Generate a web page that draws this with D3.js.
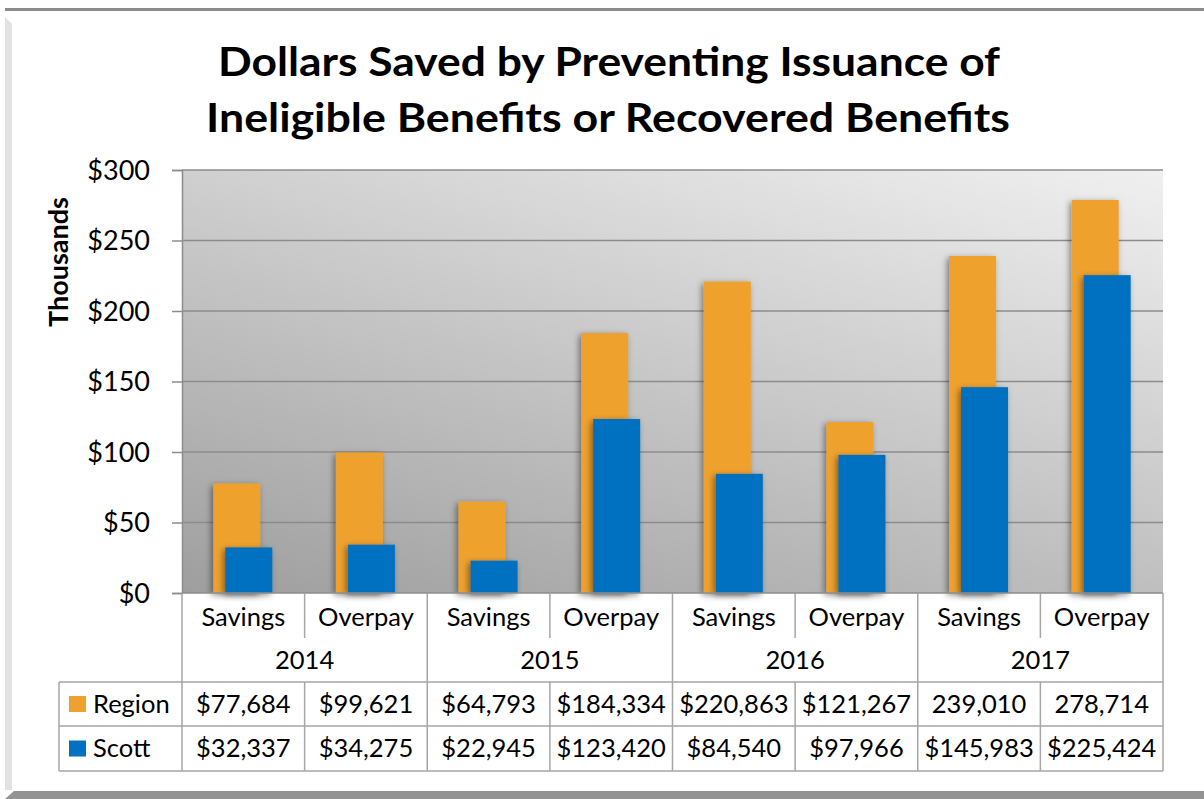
<!DOCTYPE html>
<html>
<head>
<meta charset="utf-8">
<script src="https://cdn.jsdelivr.net/npm/d3@7"></script>
<style>
  body { margin: 0; background: #fff; }
  svg { display: block; font-family: Lato, "Open Sans", sans-serif; }
</style>
</head>
<body>
<svg class="chart" width="1204" height="799"></svg>
<script>
// data
const years = ["2014", "2015", "2016", "2017"];
const kinds = ["Savings", "Overpay"];
const region = [77684, 99621, 64793, 184334, 220863, 121267, 239010, 278714];
const scott = [32337, 34275, 22945, 123420, 84540, 97966, 145983, 225424];
const regionText = ["$77,684", "$99,621", "$64,793", "$184,334", "$220,863", "$121,267", "239,010", "278,714"];
const scottText = ["$32,337", "$34,275", "$22,945", "$123,420", "$84,540", "$97,966", "$145,983", "$225,424"];
const yTicks = [0, 50000, 100000, 150000, 200000, 250000, 300000];

const orange = "#efa12f";
const blue = "#0070c0";
const lineGray = "#8c8c8c";
const cellGray = "#a6a6a6";

const svg = d3.select(".chart");

let plotLeft = 182, plotRight = 1163, plotTop = 170, plotBottom = 593;

// categories: one slot per year/kind
const cats = d3.range(8);
const x = d3.scaleBand().domain(cats).range([plotLeft, plotRight]).padding(0);
const xYear = d3.scaleBand().domain(years).range([plotLeft, plotRight]).padding(0);
const y = d3.scaleLinear().domain([0, 300000]).range([plotBottom, plotTop]);
const bw = x.bandwidth();

const defs = svg.append("defs");
// mostly vertical, a bit diagonal: dark bottom-left, light top-right
const grad = defs.append("linearGradient")
  .attr("id", "plotbg")
  .attr("gradientUnits", "userSpaceOnUse")
  .attr("x1", plotLeft).attr("y1", plotBottom)
  .attr("x2", plotLeft + 187).attr("y2", plotBottom - 651);
grad.append("stop").attr("offset", "0").attr("stop-color", "#9e9e9e");
grad.append("stop").attr("offset", "1").attr("stop-color", "#f0f0f0");

const shadow = defs.append("filter").attr("id", "shadow")
  .attr("x", "-30%").attr("y", "-10%").attr("width", "160%").attr("height", "130%");
shadow.append("feDropShadow")
  .attr("dx", -2).attr("dy", 2).attr("stdDeviation", 3)
  .attr("flood-color", "#000").attr("flood-opacity", 0.45);

// outer frame (the bevelled chart border)
svg.append("rect").attr("x", 5).attr("y", 8).attr("width", 1199).attr("height", 3).attr("fill", lineGray);
svg.append("path").attr("d", "M5,17 L12,24 L12,790 L5,790 Z").attr("fill", "#e2e2e2");
svg.append("path").attr("d", "M5,799 L14,791 L1204,791 L1204,799 Z").attr("fill", "#939393");

// title
svg.append("text")
  .attr("x", 609).attr("y", 76)
  .attr("text-anchor", "middle")
  .attr("textLength", 782).attr("lengthAdjust", "spacingAndGlyphs")
  .style("font-size", "40px").style("font-weight", "bold")
  .text("Dollars Saved by Preventing Issuance of");
svg.append("text")
  .attr("x", 608).attr("y", 132)
  .attr("text-anchor", "middle")
  .attr("textLength", 804).attr("lengthAdjust", "spacingAndGlyphs")
  .style("font-size", "40px").style("font-weight", "bold")
  .text("Ineligible Benefits or Recovered Benefits");

// plot area
svg.append("rect")
  .attr("x", plotLeft).attr("y", plotTop)
  .attr("width", plotRight - plotLeft).attr("height", plotBottom - plotTop)
  .attr("fill", "url(#plotbg)");

// y axis with gridlines
const yAxis = d3.axisLeft(y).tickValues(yTicks)
  .tickSize(10).tickPadding(22)
  .tickFormat((d) => "$" + d / 1000);
const gy = svg.append("g").attr("transform", `translate(${plotLeft},0)`).call(yAxis);
gy.select(".domain").attr("stroke", lineGray).attr("stroke-width", 1.5);
gy.selectAll(".tick line").attr("stroke", lineGray).attr("stroke-width", 1.5);
gy.selectAll(".tick text")
  .style("font-size", "27px").style("font-family", "Lato, sans-serif")
  .attr("fill", "#000").attr("dy", "0.34em");
svg.append("g").selectAll("line")
  .data(yTicks.slice(1))
  .enter().append("line")
  .attr("x1", plotLeft).attr("x2", plotRight)
  .attr("y1", (d) => y(d)).attr("y2", (d) => y(d))
  .attr("stroke", lineGray).attr("stroke-width", 1.5);

svg.append("text")
  .attr("transform", "translate(68,262) rotate(-90)")
  .attr("text-anchor", "middle")
  .style("font-size", "27px").style("font-weight", "bold")
  .text("Thousands");

// bars: Region behind, Scott offset to the right
const barW = 47;
svg.append("g").selectAll("rect")
  .data(region)
  .enter().append("rect")
  .attr("x", (d, i) => x(i) + bw / 2 - 30)
  .attr("y", (d) => y(d))
  .attr("width", barW)
  .attr("height", (d) => plotBottom - y(d))
  .attr("fill", orange)
  .attr("filter", "url(#shadow)");
svg.append("g").selectAll("rect")
  .data(scott)
  .enter().append("rect")
  .attr("x", (d, i) => x(i) + bw / 2 - 18)
  .attr("y", (d) => y(d))
  .attr("width", barW)
  .attr("height", (d) => plotBottom - y(d))
  .attr("fill", blue)
  .attr("filter", "url(#shadow)");

// axis line at zero
svg.append("line")
  .attr("x1", plotLeft).attr("x2", plotRight)
  .attr("y1", plotBottom).attr("y2", plotBottom)
  .attr("stroke", lineGray).attr("stroke-width", 1.5);

// data table under the chart
const rowKind = 617, rowYear = 660, rowTop = 682, rowMid = 726, rowEnd = 771, subEnd = 638;
const tbl = svg.append("g").attr("stroke", cellGray).attr("stroke-width", 1.5);
// year group borders (full height)
tbl.selectAll(".yl")
  .data(years.concat(["end"]))
  .enter().append("line")
  .attr("x1", (d, i) => plotLeft + i * xYear.bandwidth())
  .attr("x2", (d, i) => plotLeft + i * xYear.bandwidth())
  .attr("y1", plotBottom).attr("y2", rowEnd);
// inner dividers between Savings/Overpay
cats.filter((i) => i % 2 === 1).forEach((i) => {
  tbl.append("line").attr("x1", x(i)).attr("x2", x(i)).attr("y1", plotBottom).attr("y2", subEnd);
  tbl.append("line").attr("x1", x(i)).attr("x2", x(i)).attr("y1", rowTop).attr("y2", rowEnd);
});
[rowTop, rowMid, rowEnd].forEach((yy) => {
  tbl.append("line").attr("x1", 59).attr("x2", plotRight).attr("y1", yy).attr("y2", yy);
});
tbl.append("line").attr("x1", 59).attr("x2", 59).attr("y1", rowTop).attr("y2", rowEnd);

const txt = svg.append("g").style("font-size", "25.5px").attr("fill", "#000");
txt.selectAll(".kind")
  .data(cats)
  .enter().append("text")
  .attr("x", (d) => x(d) + bw / 2).attr("y", rowKind)
  .attr("dy", "0.35em").attr("text-anchor", "middle")
  .text((d) => kinds[d % 2]);
txt.selectAll(".year")
  .data(years)
  .enter().append("text")
  .attr("x", (d) => xYear(d) + xYear.bandwidth() / 2).attr("y", rowYear)
  .attr("dy", "0.35em").attr("text-anchor", "middle")
  .text((d) => d);
txt.selectAll(".rv")
  .data(regionText)
  .enter().append("text")
  .attr("x", (d, i) => x(i) + bw / 2).attr("y", (rowTop + rowMid) / 2)
  .attr("dy", "0.35em").attr("text-anchor", "middle")
  .text((d) => d);
txt.selectAll(".sv")
  .data(scottText)
  .enter().append("text")
  .attr("x", (d, i) => x(i) + bw / 2).attr("y", (rowMid + rowEnd) / 2)
  .attr("dy", "0.35em").attr("text-anchor", "middle")
  .text((d) => d);

// legend keys inside the table
const series = [["Region", orange, (rowTop + rowMid) / 2], ["Scott", blue, (rowMid + rowEnd) / 2]];
series.forEach(([name, c, cy]) => {
  svg.append("rect").attr("x", 69).attr("y", cy - 8).attr("width", 17).attr("height", 16).attr("fill", c);
  txt.append("text").attr("x", 93).attr("y", cy).attr("dy", "0.35em").text(name);
});
</script>
</body>
</html>
